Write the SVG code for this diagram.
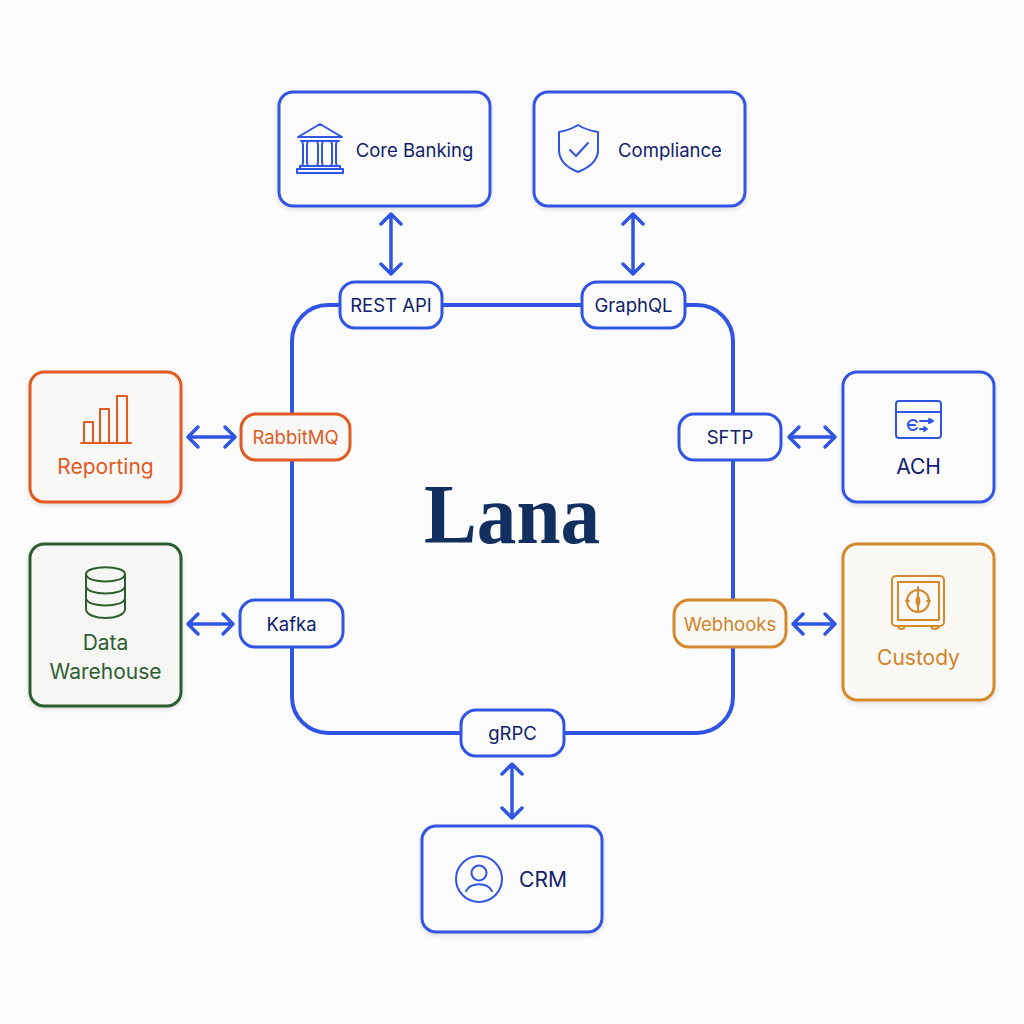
<svg xmlns="http://www.w3.org/2000/svg" width="1024" height="1024" viewBox="0 0 1024 1024">
<style>
text{font-family:Inter,"Liberation Sans",sans-serif;font-size:21px;text-anchor:middle;fill:#10206a}
.sm{font-size:18.500px}
.pl{font-size:18.500px}
.box{fill:#fcfcfd;stroke:#3055e4;stroke-width:3;filter:url(#sh)}
.port{fill:#fcfcfd;stroke:#3055e4;stroke-width:3}
.ic{fill:none;stroke:#3055e4;stroke-width:2;stroke-linecap:round;stroke-linejoin:round}
.or .box,.or .port{stroke:#e05a24;fill:#fbf9f7}.or .ic{stroke:#e05a24}.or text{fill:#e05a24}
.gr .box{stroke:#2f5d32;fill:#f6f7f5}.gr .ic{stroke:#2f5d32}.gr text{fill:#2f5d32}
.am .box,.am .port{stroke:#d48a2c;fill:#fbf9f6}.am .ic{stroke:#d48a2c}.am text{fill:#cf8427}
.ar{fill:none;stroke:#3055e4;stroke-width:3.500;stroke-linecap:round;stroke-linejoin:round}
</style>
<defs><filter id="sh" x="-10%" y="-10%" width="120%" height="125%"><feDropShadow dx="0" dy="2" stdDeviation="2.5" flood-color="#000" flood-opacity=".12"/></filter></defs>
<rect width="1024" height="1024" fill="#fcfcfc"/>
<g id="connectors">
<rect x="292" y="305" width="441" height="428" rx="36" fill="none" stroke="#3055e4" stroke-width="4"/>
<path class="ar" d="M391 214V274M381 224L391 214L401 224M381 264L391 274L401 264"/>
<path class="ar" d="M633 214V274M623 224L633 214L643 224M623 264L633 274L643 264"/>
<path class="ar" d="M188 437H235M198 427L188 437L198 447M225 427L235 437L225 447"/>
<path class="ar" d="M789 437H835M799 427L789 437L799 447M825 427L835 437L825 447"/>
<path class="ar" d="M188 624H233M198 614L188 624L198 634M223 614L233 624L223 634"/>
<path class="ar" d="M793 624H835M803 614L793 624L803 634M825 614L835 624L825 634"/>
<path class="ar" d="M512 764V818M502 774L512 764L522 774M502 808L512 818L522 808"/>
</g>
<g id="core-banking"><rect class="box" x="279" y="92" width="211" height="114" rx="14"/>
<g class="ic"><path d="M298 137L320 124L342 137ZM301 141H339M297 173H343V169H297ZM300 169V166H340V169M302 141H308L307 144V163L308 166M302 166L303 163V144L302 141M317 141H323L322 144V163L323 166M317 166L318 163V144L317 141M331 141H337L336 144V163L337 166M331 166L332 163V144L331 141"/></g>
<text class="sm" x="414.500" y="157">Core Banking</text></g>
<g id="compliance"><rect class="box" x="534" y="92" width="211" height="114" rx="14"/>
<path class="ic" d="M578 125C570 130 565 131 559 132V150C559 161 568 168 578 172C588 168 598 161 598 150V132C592 131 586 130 578 125ZM570 150L576 156L588 143"/>
<text class="sm" x="670" y="157">Compliance</text></g>
<g id="reporting" class="or"><rect class="box" x="30" y="372" width="151" height="130" rx="14"/>
<path class="ic" d="M81 443H131M84 442V422H93V442M100 442V409H109V442M117 442V396H127V442"/>
<text x="105.500" y="474">Reporting</text></g>
<g id="data-warehouse" class="gr"><rect class="box" x="30" y="544" width="151" height="162" rx="14"/>
<path class="ic" d="M86 574C86 565 125 565 125 574C125 584 86 584 86 574ZM86 574V609C86 621 125 621 125 609V574M86 586C86 596 125 596 125 586M86 598C86 608 125 608 125 598"/>
<text x="105.500" y="650">Data</text><text x="105.500" y="679">Warehouse</text></g>
<g id="ach"><rect class="box" x="843" y="372" width="151" height="130" rx="14"/>
<g class="ic"><rect x="896" y="401" width="45" height="37" rx="3"/><path d="M896 412H941M917 428A5 5 0 1 1 917 422M908 425H915M920 421H933M929 419L933 421L929 423M920 429H926M924 427L927 429L924 431"/></g>
<text x="918.500" y="474">ACH</text></g>
<g id="custody" class="am"><rect class="box" x="843" y="544" width="151" height="156" rx="14"/>
<g class="ic"><rect x="892" y="576" width="52" height="50" rx="4"/><rect x="898" y="582" width="41" height="38"/><circle cx="918" cy="601" r="11"/><path d="M918 587V612M906 601H909M927 601H930M918 596C915 601 917 604 918 606C919 604 921 601 918 596ZM898 626C899 630 904 630 905 626M931 626C932 630 938 630 939 626"/></g>
<text x="918.500" y="665">Custody</text></g>
<g id="crm"><rect class="box" x="422" y="826" width="180" height="106" rx="14"/>
<g class="ic"><circle cx="479" cy="879" r="23"/><circle cx="479" cy="873" r="7.500"/><path d="M466 891C471 882 487 882 492 891"/></g>
<text x="543" y="887">CRM</text></g>
<g id="rest-api"><rect class="port" x="340" y="282" width="102" height="46" rx="15"/><text class="pl" x="391" y="312">REST API</text></g>
<g id="graphql"><rect class="port" x="582" y="282" width="103" height="46" rx="15"/><text class="pl" x="633.500" y="312">GraphQL</text></g>
<g id="rabbitmq" class="or"><rect class="port" x="241" y="414" width="109" height="46" rx="15"/><text class="pl" x="295.500" y="444">RabbitMQ</text></g>
<g id="kafka"><rect class="port" x="240" y="600" width="103" height="47" rx="15"/><text class="pl" x="291.500" y="631">Kafka</text></g>
<g id="sftp"><rect class="port" x="679" y="414" width="102" height="46" rx="15"/><text class="pl" x="730" y="444">SFTP</text></g>
<g id="webhooks" class="am"><rect class="port" x="674" y="600" width="112" height="47" rx="15"/><text class="pl" x="730" y="631">Webhooks</text></g>
<g id="grpc"><rect class="port" x="461" y="710" width="103" height="46" rx="15"/><text class="pl" x="512.500" y="740">gRPC</text></g>
<g id="lana"><text x="512" y="543" textLength="176" lengthAdjust="spacingAndGlyphs" style="font-family:'Liberation Serif',serif;font-weight:700;font-size:84px;fill:#12305f">Lana</text></g>
</svg>
